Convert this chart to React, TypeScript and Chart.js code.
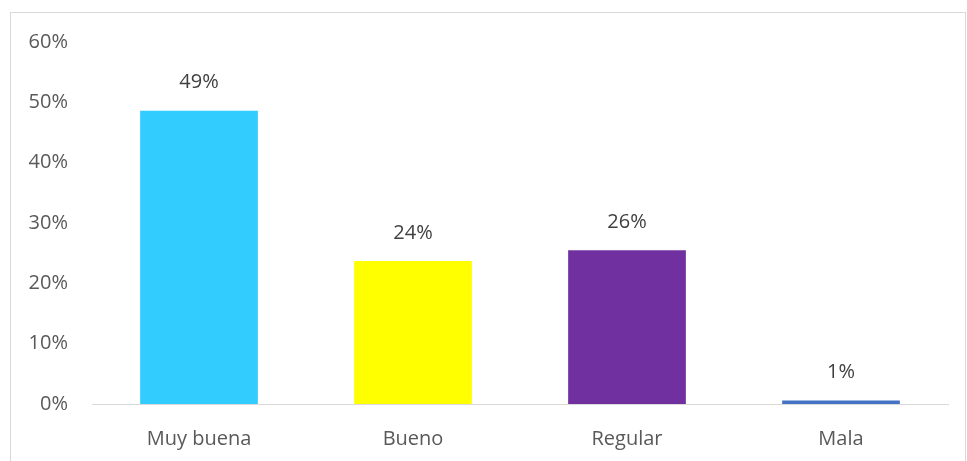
import React, { useEffect, useRef } from "react";
import { Chart, registerables } from "chart.js";

Chart.register(...registerables);

const categories = ["Muy buena", "Bueno", "Regular", "Mala"];
const values = [48.6, 23.7, 25.5, 0.6];
const valueLabels = ["49%", "24%", "26%", "1%"];
const barColors = ["#33CCFF", "#FFFF00", "#7030A0", "#4472C4"];
const yTicks = [0, 10, 20, 30, 40, 50, 60];

const FONT = "'Open Sans', 'Noto Sans', sans-serif";
const TEXT = "#595959";

const valueLabelPlugin = {
  id: "valueLabels",
  afterDatasetsDraw(chart: any) {
    const ctx = chart.ctx;
    const meta = chart.getDatasetMeta(0);
    ctx.save();
    ctx.font = `20px ${FONT}`;
    ctx.fillStyle = "#404040";
    ctx.textAlign = "center";
    ctx.textBaseline = "middle";
    meta.data.forEach((bar: any, i: number) => {
      ctx.fillText(valueLabels[i], bar.x, bar.y - 28);
    });
    ctx.restore();
  },
};

export default function App() {
  const ref = useRef<HTMLCanvasElement>(null);
  useEffect(() => {
    if (!ref.current) return;
    const chart = new Chart(ref.current, {
      type: "bar",
      data: {
        labels: categories,
        datasets: [
          {
            data: values,
            backgroundColor: barColors,
            borderWidth: 0,
            categoryPercentage: 1,
            barPercentage: 0.55,
          },
        ],
      },
      options: {
        animation: false,
        responsive: false,
        maintainAspectRatio: false,
        layout: { padding: { top: 42, right: 19, left: 0, bottom: 0 } },
        plugins: {
          legend: { display: false },
          tooltip: { enabled: false },
        },
        scales: {
          x: {
            grid: { display: false },
            border: { display: true, color: "#d9d9d9", width: 1 },
            ticks: {
              color: TEXT,
              font: { family: FONT, size: 20 },
              padding: 15,
            },
            afterFit(scale: any) {
              scale.height = 57;
            },
          },
          y: {
            min: 0,
            max: 60,
            afterBuildTicks(scale: any) {
              scale.ticks = yTicks.map((v) => ({ value: v }));
            },
            grid: { display: false },
            border: { display: false },
            ticks: {
              color: TEXT,
              font: { family: FONT, size: 20 },
              padding: 16,
              callback: (v: any) => `${v}%`,
            },
            afterFit(scale: any) {
              scale.width = 92;
            },
          },
        },
      },
      plugins: [valueLabelPlugin],
    });
    return () => chart.destroy();
  }, []);

  return (
    <div style={{ position: "absolute", left: 0, top: 0, width: 967, height: 461, background: "#fff", overflow: "hidden" }}>
      <div
        style={{
          position: "absolute",
          left: 10,
          top: 12,
          width: 956,
          height: 470,
          border: "1px solid #d9d9d9",
          boxSizing: "border-box",
        }}
      />
      <canvas ref={ref} width={967} height={461} style={{ position: "absolute", left: 0, top: 0 }} />
    </div>
  );
}
